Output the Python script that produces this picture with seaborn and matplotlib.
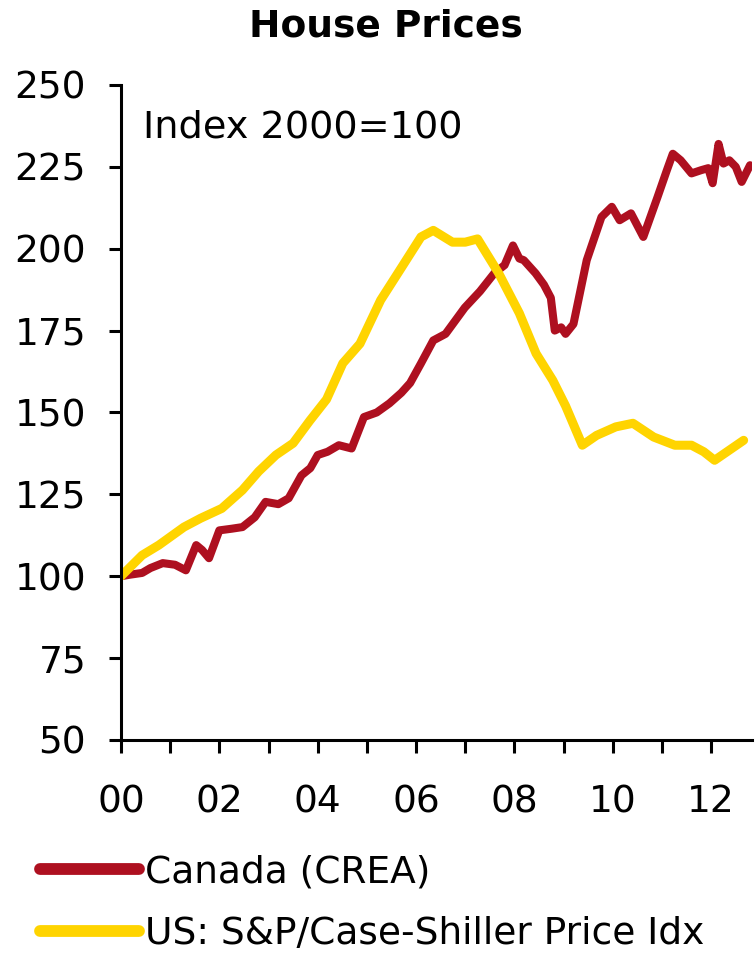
#house prices chart: Canada (CREA) vs US Case-Shiller, index 2000=100
import pandas as pd
import seaborn as sns
import matplotlib.pyplot as plt

#data
canada_year = [2000.0, 2000.2, 2000.43, 2000.6, 2000.85, 2001.1, 2001.32, 2001.53, 2001.65, 2001.79,
               2002.0, 2002.25, 2002.47, 2002.72, 2002.94, 2003.2, 2003.41, 2003.67, 2003.85, 2004.0,
               2004.2, 2004.43, 2004.69, 2004.94, 2005.2, 2005.46, 2005.7, 2005.88, 2006.1, 2006.35,
               2006.6, 2006.99, 2007.3, 2007.59, 2007.8, 2007.97, 2008.1, 2008.19, 2008.43, 2008.6,
               2008.74, 2008.82, 2008.95, 2009.04, 2009.2, 2009.47, 2009.77, 2009.98, 2010.14, 2010.37,
               2010.62, 2010.91, 2011.1, 2011.22, 2011.38, 2011.6, 2011.8, 2011.94, 2012.03, 2012.15,
               2012.25, 2012.37, 2012.5, 2012.62, 2012.79]
canada_index = [100, 100.5, 101, 102.5, 104, 103.5, 101.8, 109.5, 108, 105.5,
                114, 114.5, 115, 118, 122.7, 122, 123.8, 130.8, 133, 137,
                138, 140, 139, 148.6, 150, 152.8, 156, 159, 165, 172,
                174, 182, 187, 192.5, 195, 201, 197, 196.5, 192.5, 189,
                185, 175, 176, 174, 177, 196.5, 209.7, 212.8, 208.7, 210.8,
                203.6, 215.8, 224, 229, 227, 223, 224, 224.6, 220, 232,
                226, 227, 225, 220.4, 225.5]

us_year = [2000.0, 2000.43, 2000.77, 2001.28, 2001.62, 2002.05, 2002.47, 2002.8, 2003.15, 2003.5,
           2003.84, 2004.18, 2004.51, 2004.86, 2005.28, 2005.71, 2006.1, 2006.35, 2006.74, 2007.0,
           2007.25, 2007.68, 2008.1, 2008.44, 2008.78, 2009.04, 2009.38, 2009.67, 2010.06, 2010.41,
           2010.83, 2011.26, 2011.6, 2011.85, 2012.07, 2012.37, 2012.66]
us_index = [100, 106.4, 109.5, 115, 117.7, 120.7, 126.3, 132, 137, 140.6,
            147.5, 154, 165, 171, 184.3, 194.4, 203.6, 205.6, 202, 202,
            203, 192.5, 180.3, 168, 159.8, 152, 140, 143, 145.6, 146.7,
            142.5, 140, 140, 138, 135.4, 138.5, 141.5]

x_ticks = list(range(2000, 2013))
x_labels = [f"{y % 100:02d}" if y % 2 == 0 else "" for y in x_ticks]
y_ticks = [50, 75, 100, 125, 150, 175, 200, 225, 250]

series_names = ["Canada (CREA)", "US: S&P/Case-Shiller Price Idx"]
series_colors = ["#AE1020", "#FFD400"]

df = pd.concat([
    pd.DataFrame({"year": canada_year, "index": canada_index, "series": series_names[0]}),
    pd.DataFrame({"year": us_year, "index": us_index, "series": series_names[1]}),
])

sns.set_style("ticks")
plt.rcParams['font.family'] = ['DejaVu Sans']
plt.rcParams['text.color'] = "black"

fig = plt.figure(figsize=(7.56, 9.59), dpi=100)
ax = fig.add_axes([0.16, 0.2284, 0.8347, 0.683])

sns.lineplot(data=df, x="year", y="index", hue="series", palette=series_colors,
             hue_order=series_names, linewidth=5.8, ax=ax, sort=False, estimator=None)
# yellow line is a bit thicker in the original
ax.get_lines()[1].set_linewidth(6.5)

ax.set_xlim(2000, 2012.83)
ax.set_ylim(50, 250)
ax.set_xticks(x_ticks)
ax.set_xticklabels(x_labels)
ax.set_yticks(y_ticks)
ax.tick_params(axis="both", labelsize=27, length=9, width=2.2, colors="black",
               labelcolor="black", direction="out")
ax.tick_params(axis="x", pad=23)
ax.tick_params(axis="y", pad=16)
ax.set_xlabel("")
ax.set_ylabel("")
sns.despine(ax=ax)
for side in ["left", "bottom"]:
    ax.spines[side].set_linewidth(2.2)
    ax.spines[side].set_color("black")

ax.text(0.035, 0.935, "Index 2000=100", transform=ax.transAxes, fontsize=27.5,
        va="center", ha="left", color="black")
fig.text(0.51, 0.972, "House Prices", fontsize=27, fontweight="bold",
         ha="center", va="center", color="black")

handles, labels = ax.get_legend_handles_labels()
ax.legend_.remove()
leg = fig.legend(handles, labels, loc="upper left", bbox_to_anchor=(0.053, 0.109),
                 frameon=False, fontsize=27, handlelength=2.65, handletextpad=0.14,
                 labelspacing=0.68, borderaxespad=0, borderpad=0)
for line in leg.get_lines():
    line.set_linewidth(8.5)
for t in leg.get_texts():
    t.set_color("black")

fig.savefig("out.png", dpi=100)
